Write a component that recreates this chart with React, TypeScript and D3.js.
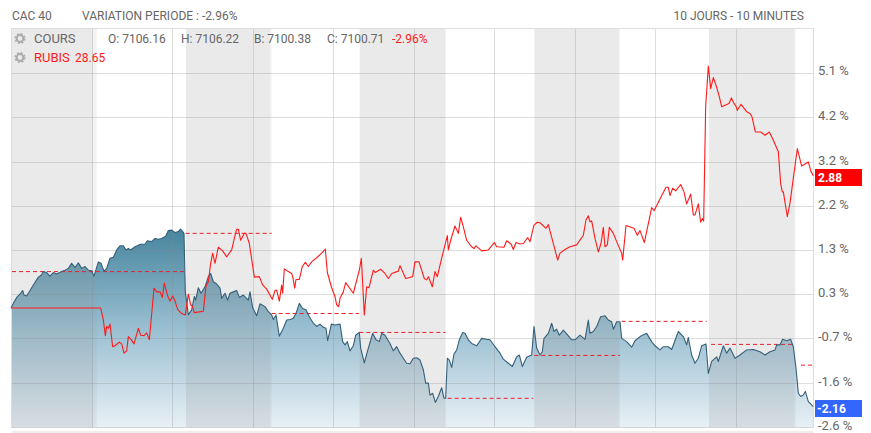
import React from "react";
import * as d3 from "d3";

const W = 871;
const H = 433;

// Time is in chart ticks (session of about 260 ticks).
const cacTime = [33,40,50,60,68,72,80,90,100,115,125,130,140,150,160,170,185,195,205,215,225,235,245,255,265,275,282,295,303,312,320,330,340,350,360,370,378,385,392,405,420,435,442,455,465,475,485,497,505,515,525,535,542,552,556,565,575,583,587,595,603,615,625,632,640,650,660,665,675,683,690,700,710,718,730,745,750,758,770,780,795,805,815,820,828,838,850,860,870,880,888,898,908,918,928,940,950,960,970,978,983,988,994,1005,1020,1028,1035,1042,1050,1060,1067,1078,1082,1093,1105,1118,1128,1138,1145,1155,1170,1180,1190,1200,1210,1220,1230,1240,1250,1260,1270,1277,1285,1290,1298,1306,1315,1325,1332,1337,1342,1348,1355,1362,1370,1378,1388,1395,1405,1415,1430,1445,1460,1470,1485,1500,1510,1525,1537,1550,1558,1567,1580,1595,1602,1610,1620,1627,1632,1645,1655,1662,1670,1678,1690,1700,1715,1725,1740,1755,1765,1770,1780,1790,1802,1815,1825,1835,1840,1850,1860,1865,1880,1895,1905,1920,1940,1955,1965,1980,1990,2005,2015,2035,2050,2060,2065,2075,2085,2095,2105,2118,2125,2135,2150,2155,2170,2180,2190,2205,2220,2240,2260,2280,2295,2310,2325,2330,2340,2348,2360,2372,2380,2388,2395,2402,2410,2416,2425,2440];
const cacPct = [0,.10,.23,.30,.38,.28,.26,.38,.50,.67,.72,.79,.77,.69,.77,.74,.79,.82,.86,.97,.88,.98,.86,.90,.82,.81,.69,1.00,.97,.80,.86,1.08,1.10,1.26,1.35,1.35,1.26,1.29,1.26,1.33,1.38,1.39,1.46,1.44,1.51,1.49,1.51,1.56,1.68,1.69,1.64,1.66,1.71,1.62,.35,-.15,-.04,.25,.17,.44,.32,.46,.68,.75,.57,.52,.43,.21,.32,.17,.32,.35,.38,.23,.28,.17,.35,.01,-.17,.09,.03,-.08,-.15,-.25,-.15,-.61,-.44,-.26,-.25,-.22,-.12,.10,-.01,-.04,-.19,-.33,-.40,-.35,-.42,-.44,-.71,-.55,-.35,-.37,-.35,-.73,-.80,-.73,-.93,-.82,-.59,-.53,-.87,-1.19,-.87,-.55,-.69,-.73,-.55,-.59,-.77,-.93,-.84,-.98,-1.09,-1.20,-1.21,-1.09,-1.08,-1.13,-1.34,-1.63,-1.63,-1.89,-1.85,-2.05,-1.92,-1.73,-1.96,-1.96,-1.09,-1.13,-1.29,-1.00,-.91,-.69,-.53,-.55,-.69,-.77,-.82,-.66,-.68,-.69,-.84,-.98,-1.11,-1.20,-1.27,-1.06,-1.02,-1.27,-1.07,-1.02,-.40,-.87,-1.02,-.95,-.66,-.55,-.33,-.51,-.46,-.59,-.48,-.56,-.69,-.69,-.59,-.68,-.26,-.55,-.51,-.40,-.19,-.17,-.26,-.30,-.46,-.30,-.30,-.66,-.73,-.85,-.71,-.62,-.55,-.73,-.82,-.91,-.84,-.84,-.90,-.51,-.62,-.80,-.64,-1.02,-1.20,-1.09,-.82,-.78,-1.42,-1.16,-1.06,-1.16,-.82,-.98,-.87,-1.09,-1.02,-.91,-.90,-.95,-1.02,-.95,-.91,-.80,-.80,-.68,-.71,-.68,-.84,-1.31,-1.85,-1.92,-1.89,-1.81,-2.03,-2.14];

const rubisTime = [33,302,310,316,320,325,330,338,345,358,365,372,380,385,393,402,415,422,432,440,448,462,470,480,487,493,503,510,518,525,533,545,556,565,572,577,583,610,618,625,632,638,645,655,668,680,695,703,710,715,722,733,738,748,763,778,788,800,817,825,830,838,845,848,853,865,875,878,884,888,898,907,916,925,935,950,965,976,982,995,1005,1010,1016,1020,1030,1037,1060,1078,1084,1093,1100,1107,1120,1126,1142,1155,1165,1175,1195,1200,1217,1238,1245,1257,1273,1280,1285,1297,1305,1312,1325,1342,1345,1352,1365,1375,1382,1390,1400,1415,1422,1428,1445,1465,1483,1490,1512,1520,1533,1540,1548,1560,1570,1583,1590,1602,1612,1620,1638,1645,1673,1680,1695,1710,1730,1750,1758,1765,1770,1775,1785,1795,1803,1810,1815,1822,1828,1840,1850,1865,1868,1878,1902,1912,1920,1933,1955,1962,1998,2005,2010,2018,2027,2042,2052,2060,2072,2080,2085,2095,2102,2107,2111,2117,2125,2132,2140,2150,2158,2165,2182,2188,2194,2202,2208,2212,2223,2240,2250,2256,2266,2282,2295,2308,2320,2335,2342,2347,2350,2362,2370,2392,2405,2425,2433,2440];
const rubisPct = [0,0,-.26,-.60,-.40,-.44,-.35,-.84,-.82,-.74,-.78,-.98,-.93,-.62,-.68,-.78,-.44,-.59,-.60,-.54,-.69,.43,.35,.35,.23,.54,.26,.15,.26,.15,-.03,-.12,-.15,.30,.07,.04,-.10,-.07,.48,.57,.97,1.19,.97,1.32,1.24,1.11,1.26,1.51,1.71,1.71,1.47,1.62,1.62,1.40,.67,.68,.50,.41,.19,.38,.39,.15,.50,.32,.85,.79,.75,.68,.43,.62,.62,.90,.99,.90,1.00,1.09,1.19,1.28,.77,.44,.25,.07,.03,.21,.35,.55,.32,.82,1.08,-.15,.46,.44,.82,.77,.84,.75,.64,.75,.80,.92,.64,.68,1.00,1.00,.64,.61,.68,.46,.79,.68,1.08,1.57,1.26,1.47,1.78,1.62,1.97,1.76,1.47,1.33,1.29,1.35,1.24,1.26,1.42,1.33,1.32,1.46,1.39,1.27,1.42,1.39,1.40,1.53,1.44,1.80,1.86,1.85,1.73,1.81,1.04,1.19,1.27,1.33,1.37,1.58,1.91,2.00,1.87,1.89,1.51,1.22,1.40,1.75,1.33,1.37,1.75,1.62,1.44,1.19,1.04,1.79,1.73,1.58,1.68,1.42,2.18,2.11,2.62,2.62,2.44,2.60,2.54,2.68,2.52,2.26,2.47,2.02,2.02,2.26,1.86,1.94,1.89,4.37,5.25,4.76,5.00,4.79,4.58,4.37,4.42,4.45,4.56,4.44,4.38,4.29,4.42,4.26,4.22,4.15,3.82,3.82,3.75,3.82,3.64,3.39,2.70,2.52,2.52,1.98,2.28,3.46,3.08,3.17,2.96,2.87];

// Previous close levels, one per session
const closeStart = [36,557,815,1078,1343,1603,1865,2133,2403];
const closeEnd = [552,815,1077,1337,1600,1860,2120,2385,2440];
const closePct = [.79,1.62,-.12,-.53,-1.96,-1.03,-.29,-.79,-1.24];

// Closed-market bands
const bandStart = [36,558,1079,1603,2127];
const bandEnd = [278,810,1335,1856,2383];
const bandFade = [290,815,1338,1860,2387];

const gridTimes = [278,517,760,1000,1243,1483,1726,1966,2209];
const tickPct = [5.095,4.14,3.16,2.205,1.25,.295,-.66,-1.635,-2.585];
const tickLabels = ["5.1 %","4.2 %","3.2 %","2.2 %","1.3 %","0.3 %","-0.7 %","-1.6 %","-2.6 %"];

const headerTexts = ["CAC 40","VARIATION PERIODE : -2.96%"];
const ohlcTexts = ["O: 7106.16","H: 7106.22","B: 7100.38","C: 7100.71"];

const lastRubis = 2.88;
const lastCac = -2.16;

const font = "Roboto, sans-serif";
const grey = "#666";

function Gear({ cx, cy }: { cx: number; cy: number }) {
  return (
    <g>
      <circle cx={cx} cy={cy} r={3.4} fill="none" stroke="#aaa" strokeWidth={2} />
      <circle cx={cx} cy={cy} r={4.8} fill="none" stroke="#aaa" strokeWidth={1.4} strokeDasharray="2 1.77" />
    </g>
  );
}

export default function App() {
  const x = d3.scaleLinear().domain([0, 2613]).range([0, W]);
  const y = d3.scaleLinear().domain([0, 5.1]).range([308, 73]);
  const plotL = 11.5, plotR = 813.5, plotT = 28.5, plotB = 427.5;

  const cac = cacTime.map((t, i) => [t, cacPct[i]] as [number, number]);
  const rubis = rubisTime.map((t, i) => [t, rubisPct[i]] as [number, number]);
  const line = d3.line<[number, number]>().x((d) => x(d[0])).y((d) => y(d[1]));
  const area = d3.area<[number, number]>().x((d) => x(d[0])).y0(plotB).y1((d) => y(d[1]));

  const snap = (v: number) => Math.floor(v) + 0.5;

  return (
    <svg width={W} height={H} viewBox={`0 0 ${W} ${H}`} style={{ position: "absolute", left: 0, top: 0, background: "#fff" }} fontFamily={font} fontSize={12}>
      <defs>
        <linearGradient id="cacFill" gradientUnits="userSpaceOnUse" x1={0} x2={0} y1={229} y2={428}>
          <stop offset="0" stopColor="#46859f" />
          <stop offset="0.5" stopColor="#9abfd1" />
          <stop offset="1" stopColor="#e8f0f6" />
        </linearGradient>
      </defs>

      <text x={12} y={20} fill={grey}>{headerTexts[0]}</text>
      <text x={82} y={20} fill={grey}>{headerTexts[1]}</text>
      <text x={804} y={20} fill={grey} textAnchor="end">10 JOURS - 10 MINUTES</text>

      <path d={area(cac) ?? ""} fill="url(#cacFill)" />

      {bandStart.map((s, i) => (
        <g key={i}>
          <rect x={x(s)} y={plotT} width={x(bandEnd[i]) - x(s)} height={plotB - plotT} fill="#969696" fillOpacity={0.2} />
          <rect x={x(bandEnd[i])} y={plotT} width={x(bandFade[i]) - x(bandEnd[i])} height={plotB - plotT} fill="#969696" fillOpacity={0.11} />
        </g>
      ))}

      {tickPct.map((v, i) => (
        <line key={i} x1={plotL} x2={plotR} y1={snap(y(v))} y2={snap(y(v))} stroke="#888" strokeOpacity={0.28} />
      ))}
      {gridTimes.map((t, i) => (
        <line key={i} x1={snap(x(t))} x2={snap(x(t))} y1={plotT} y2={plotB} stroke="#888" strokeOpacity={0.28} />
      ))}
      <line x1={plotL} x2={plotR} y1={plotT} y2={plotT} stroke="#ddd" />
      <line x1={plotL} x2={plotL} y1={plotT} y2={plotB} stroke="#ddd" />
      <line x1={plotR} x2={plotR} y1={plotT} y2={plotB} stroke="#ddd" />
      <line x1={plotL} x2={plotR} y1={432} y2={432} stroke="#ddd" />

      {closePct.map((v, i) => (
        <line key={i} x1={x(closeStart[i])} x2={x(closeEnd[i])} y1={y(v)} y2={y(v)} stroke="#e8202a" strokeDasharray="4 3" strokeWidth={1} />
      ))}

      <path d={line(cac) ?? ""} fill="none" stroke="#35607a" strokeWidth={1.1} strokeLinejoin="round" />
      <path d={line(rubis) ?? ""} fill="none" stroke="#ff1a1a" strokeWidth={1.1} strokeLinejoin="round" />

      <Gear cx={20} cy={38.5} />
      <Gear cx={20} cy={57.5} />
      <text x={34} y={43} fill={grey} fontSize={13}>COURS</text>
      {ohlcTexts.map((s, i) => (
        <text key={i} x={108 + i * 73} y={43} fill={grey}>{s}</text>
      ))}
      <text x={392} y={43} fill="#ff1a1a">-2.96%</text>
      <text x={34} y={62} fill="#ff1a1a" fontSize={13}>RUBIS</text>
      <text x={75} y={62} fill="#ff1a1a">28.65</text>

      {tickLabels.map((s, i) => (
        <text key={i} x={818} y={snap(y(tickPct[i])) + (i === 0 ? 1.5 : 2.5)} fill={grey} fontSize={13}>{s}</text>
      ))}

      <rect x={815} y={169} width={47} height={17} fill="#ff0000" />
      <text x={818} y={182} fill="#fff" fontWeight={700}>{lastRubis.toFixed(2)}</text>
      <rect x={815} y={400} width={47} height={17} fill="#3366ff" />
      <text x={817} y={413} fill="#fff" fontWeight={700}>{lastCac.toFixed(2)}</text>
    </svg>
  );
}
